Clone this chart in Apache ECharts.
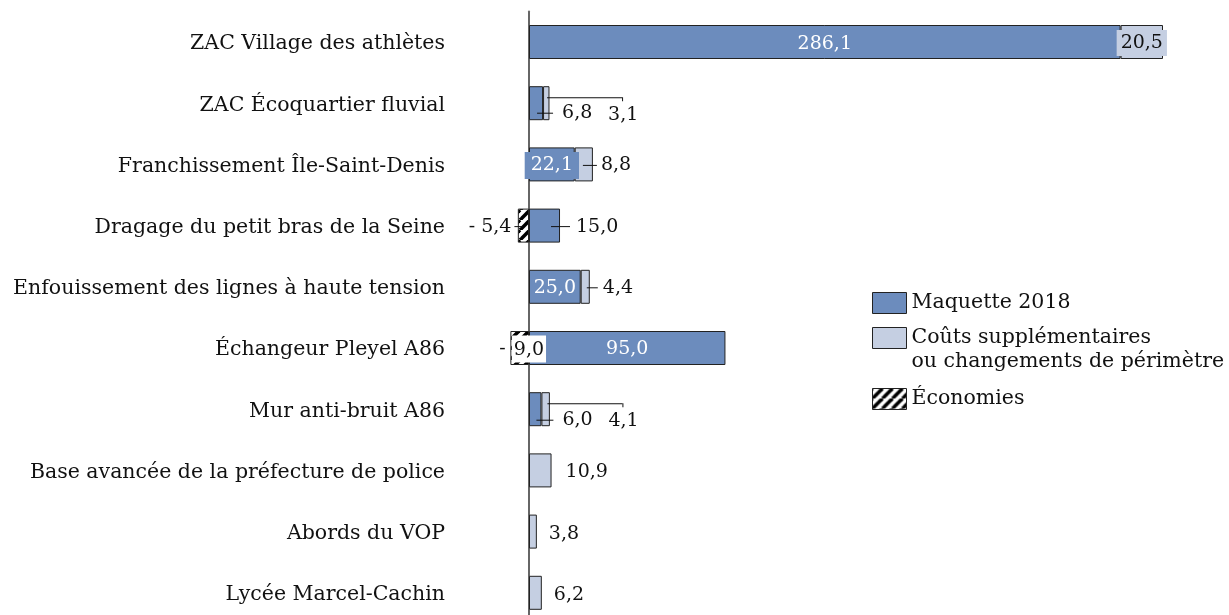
<!DOCTYPE html>
<html>
<head>
<meta charset="utf-8">
<script src="https://cdn.jsdelivr.net/npm/echarts@6/dist/echarts.min.js"></script>
<style>
html,body{margin:0;padding:0;background:#fff;overflow:hidden;}
#chart{width:1229px;height:630px;}
</style>
</head>
<body>
<div id="chart"></div>
<script>
const categories = [
  'ZAC Village des athlètes',
  'ZAC Écoquartier fluvial',
  'Franchissement Île-Saint-Denis',
  'Dragage du petit bras de la Seine',
  'Enfouissement des lignes à haute tension',
  'Échangeur Pleyel A86',
  'Mur anti-bruit A86',
  'Base avancée de la préfecture de police',
  'Abords du VOP',
  'Lycée Marcel-Cachin'
];
const seriesNames = ['Maquette 2018', 'Coûts supplémentaires\nou changements de périmètre', 'Économies'];
const maquette = [286.1, 6.8, 22.1, 15.0, 25.0, 95.0, 6.0, null, null, null];
const supplements = [20.5, 3.1, 8.8, null, 4.4, null, 4.1, 10.9, 3.8, 6.2];
const economies = [null, null, null, -5.4, null, -9.0, null, null, null, null];

const FONT = '"DejaVu Serif", serif';
const DARK = '#6c8cbd';
const LIGHT = '#c5cfe2';
const EDGE = '#222';
const VFS = 19;
const CFS = 20.5;

const fmt = v => (v < 0 ? '- ' + Math.abs(v).toFixed(1) : v.toFixed(1)).replace('.', ',');

// hatch pattern
const TS = 10;
const pc = document.createElement('canvas');
pc.width = TS; pc.height = TS;
const g = pc.getContext('2d');
g.fillStyle = '#fff'; g.fillRect(0, 0, TS, TS);
g.strokeStyle = '#000'; g.lineWidth = 3.6;
for (let i = -1; i <= 1; i++) {
  g.beginPath(); g.moveTo(i * TS, TS); g.lineTo(i * TS + TS, 0); g.stroke();
}
const HATCH = { image: pc, repeat: 'repeat' };

const vtxt = (color) => ({ fontFamily: FONT, fontSize: VFS, color: color || '#111', verticalAlign: 'middle' });

function inside(color, bg, pad, offset) {
  const l = { show: true, position: 'inside', fontFamily: FONT, fontSize: VFS, color: color,
    offset: offset || [0, 2], formatter: p => fmt(p.value) };
  if (bg) { l.backgroundColor = bg; l.padding = pad; }
  return l;
}
function tickRight(tw, gap, offset) {
  return { show: true, position: 'right', distance: 0, offset: offset,
    formatter: p => '{t|}{s|}{v|' + fmt(p.value) + '}',
    rich: { t: { width: tw, height: 1, backgroundColor: '#111', verticalAlign: 'middle' },
            s: { width: gap }, v: vtxt() } };
}
function leader(pos, lw, sp) {
  return { show: true, position: pos, align: 'left', verticalAlign: 'top',
    formatter: p => '{h|}{d|}\n{s|}{v|' + fmt(p.value) + '}',
    rich: { h: { width: lw, height: 1, backgroundColor: '#111', verticalAlign: 'top' },
            d: { width: 1, height: 4, backgroundColor: '#111', verticalAlign: 'top' },
            s: { width: sp }, v: Object.assign(vtxt(), { lineHeight: 28 }) } };
}
function plainRight(d) {
  return { show: true, position: 'right', distance: d, offset: [0, 2], fontFamily: FONT, fontSize: VFS, color: '#111',
    formatter: p => fmt(p.value) };
}
function tickLeft(tw, gap, offset) {
  return { show: true, position: 'inside', align: 'right', offset: offset,
    formatter: p => '{v|' + fmt(p.value) + '}{s|}{t|}',
    rich: { t: { width: tw, height: 1, backgroundColor: '#111', verticalAlign: 'middle' },
            s: { width: gap }, v: vtxt() } };
}
function whiteBox(offset) {
  return { show: true, position: 'inside', offset: offset,
    formatter: p => { const s = fmt(p.value); return '{d|- }{v|' + s.replace('- ', '') + '}'; },
    rich: { d: vtxt(), v: Object.assign(vtxt(), { backgroundColor: '#fff', padding: [5, 2, 3, 2] }) } };
}

const maqLabels = [
  inside('#fff'),
  tickRight(16, 9, [-6, 10]),
  inside('#fff', DARK, [5, 6, 3, 6], [0, 1]),
  tickRight(19, 6, [-9, 1]),
  inside('#fff', null, null, [0, 1]),
  inside('#fff', null, null, [0, 1]),
  tickRight(17, 9, [-5, 11]),
  null, null, null
];
const supLabels = [
  inside('#111', LIGHT, [4, 4, 3, 4], [0, 1]),
  leader([4, 11], 75, 61),
  tickRight(14, 4, [-10, 1]),
  null,
  tickRight(11, 5, [-3, 1]),
  null,
  leader([6, 11], 75, 61),
  plainRight(14), plainRight(12), plainRight(12)
];
const ecoLabels = [null, null, null, tickLeft(8, 3, [-1, 1]), null, whiteBox([3, 1]), null, null, null, null];

const build = (vals, labels) => vals.map((v, i) => {
  const o = { value: v };
  if (labels[i]) o.label = labels[i];
  return o;
});

const itemStyleOf = (c) => ({ color: c, borderColor: EDGE, borderWidth: 1 });

const chart = echarts.init(document.getElementById('chart'), null, { renderer: 'canvas' });
const K = 634 / 306.6;
const gridLeft = 529 - 20 * K;
const gridWidth = 330 * K;

const legendBase = {
  orient: 'vertical', left: 872, padding: 0, itemWidth: 34, itemHeight: 21, itemGap: 0,
  icon: 'rect', selectedMode: false,
  itemStyle: { borderColor: EDGE, borderWidth: 1 },
  textStyle: { fontFamily: FONT, fontSize: CFS, color: '#111', lineHeight: 21 }
};

chart.setOption({
  animation: false,
  backgroundColor: '#fff',
  grid: { left: gridLeft, width: gridWidth, top: 11.4, height: 612, containLabel: false },
  legend: [
    Object.assign({}, legendBase, { top: 292, data: [seriesNames[0]] }),
    Object.assign({}, legendBase, { top: 302, data: [seriesNames[1]],
      formatter: name => ' \n' + name,
      textStyle: { fontFamily: FONT, fontSize: CFS, color: '#111', lineHeight: 24 } }),
    Object.assign({}, legendBase, { top: 388, data: [seriesNames[2]] })
  ],
  xAxis: { type: 'value', min: -20, max: 310, show: false, splitLine: { show: false } },
  yAxis: {
    type: 'category', data: categories, inverse: true,
    axisLine: { show: true, onZero: true, lineStyle: { color: '#666', width: 2 } },
    axisTick: { show: false },
    axisLabel: { margin: gridLeft - 445, fontFamily: FONT, fontSize: CFS, color: '#111',
      formatter: v => '{c|' + v + '}',
      rich: { c: { fontFamily: FONT, fontSize: CFS, color: '#111', padding: [4, 0, 0, 0] } } }
  },
  series: [
    { name: seriesNames[0], type: 'bar', stack: 'total', barWidth: 34,
      itemStyle: itemStyleOf(DARK), data: build(maquette, maqLabels) },
    { name: seriesNames[1], type: 'bar', stack: 'total', barWidth: 34,
      itemStyle: itemStyleOf(LIGHT), data: build(supplements, supLabels) },
    { name: seriesNames[2], type: 'bar', stack: 'total', barWidth: 34,
      itemStyle: itemStyleOf(HATCH), data: build(economies, ecoLabels) }
  ]
});
</script>
</body>
</html>
